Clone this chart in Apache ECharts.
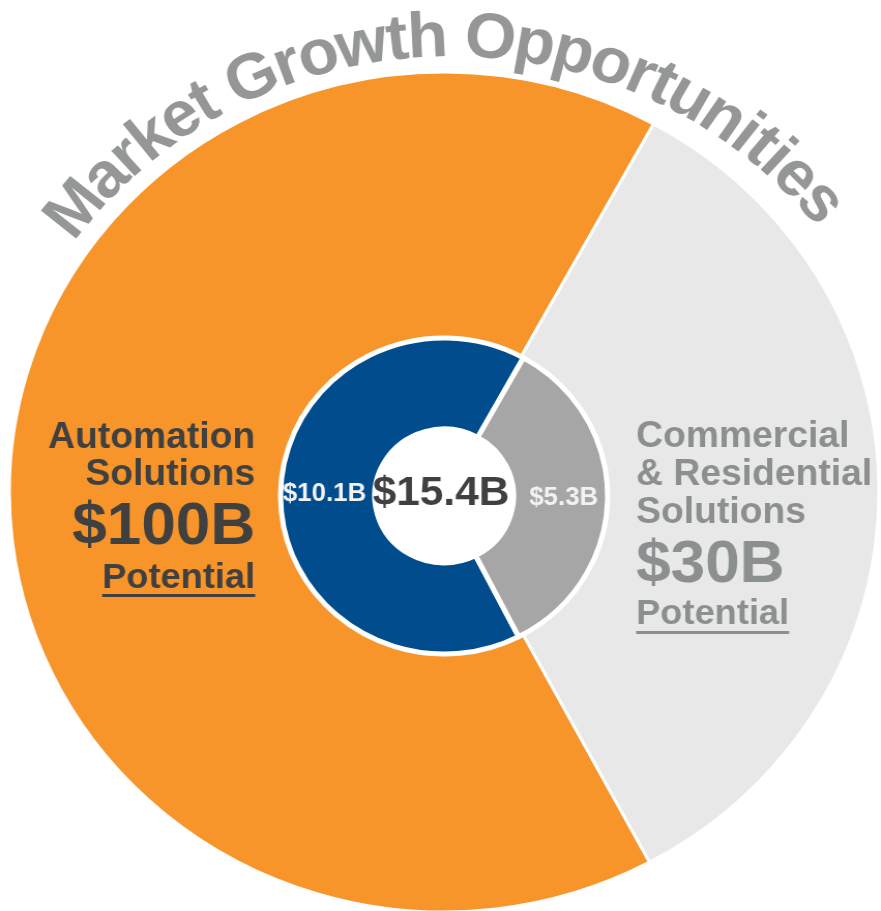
<!DOCTYPE html>
<html><head><meta charset="utf-8">
<script src="https://cdn.jsdelivr.net/npm/echarts@6/dist/echarts.min.js"></script>
<style>
html,body{margin:0;padding:0;background:#fff;overflow:hidden}
#wrap{width:881px;height:911px;overflow:hidden}
#chart{width:851px;height:911px;transform:scaleX(1.0352);transform-origin:0 0}
</style></head>
<body><div id="wrap"><div id="chart"></div></div>
<script>
// ---- data ----
const titleText = 'Market Growth Opportunities';
const segmentNames = ['Automation Solutions', 'Commercial & Residential Solutions'];
const potentialShareDeg = [237, 123];          // outer ring angular share
const potentialLabels = ['$100B', '$30B'];
const currentValues = [10.1, 5.3];             // inner ring ($B)
const subLabel = 'Potential';
const leftNameLines = ['Automation', 'Solutions'];
const rightNameLines = ['Commercial', '& Residential', 'Solutions'];

// ---- styles ----
const FONT = '"Liberation Sans", Arial, Helvetica, sans-serif';
const outerColors = ['#F7952A', '#E8E8E8'];
const innerColors = ['#004C8D', '#A6A6A6'];
const titleColor = '#959796';
const leftColor = '#404040';
const rightColor = '#8C8F8F';

const chart = echarts.init(document.getElementById('chart'), null, {renderer: 'canvas'});
const mctx = document.createElement('canvas').getContext('2d');
function measure(t, size) { mctx.font = 'bold ' + size + 'px ' + FONT; return mctx.measureText(t).width; }

// ---- curved title ----
const F = 64, Rb = 446, acx = 436, acy = 507, startDeg = -53.8, endDeg = 51.6;
const chars = [...titleText];
const adv = chars.map(c => measure(c, F));
const totalAdv = adv.reduce((a, b) => a + b, 0);
const k = ((endDeg - startDeg) * Math.PI / 180 * Rb) / totalAdv;
const graphics = [];
let s = 0;
chars.forEach((c, i) => {
  const w = adv[i] * k;
  const th = startDeg * Math.PI / 180 + (s + w / 2) / Rb;
  s += w;
  if (c === ' ') return;
  const r = Rb + 0.35 * F;
  graphics.push({type: 'text', z: 100, silent: true,
    x: acx + r * Math.sin(th), y: acy - r * Math.cos(th), rotation: -th,
    style: {text: c, fill: titleColor, fontSize: F, fontWeight: 'bold', fontFamily: FONT, align: 'center', verticalAlign: 'middle'}});
});

function txt(text, x, y, size, color, align) {
  graphics.push({type: 'text', z: 100, silent: true, x: x, y: y,
    style: {text: text, fill: color, fontSize: size, fontWeight: 'bold', fontFamily: FONT, align: align, verticalAlign: 'middle'}});
}
function underline(x, y, w, color) {
  graphics.push({type: 'rect', z: 100, silent: true, shape: {x: x, y: y, width: w, height: 3}, style: {fill: color}});
}

// left block (right aligned)
const LX = 246.5;
txt(leftNameLines[0], LX, 438, 36, leftColor, 'right');
txt(leftNameLines[1], LX, 475, 36, leftColor, 'right');
txt(potentialLabels[0], LX, 527, 60, leftColor, 'right');
txt(subLabel, LX, 578, 35, leftColor, 'right');
const wl = measure(subLabel, 35);
underline(LX - wl, 594, wl, leftColor);

// right block (left aligned)
const RX = 614.5;
txt(rightNameLines[0], RX, 437, 36, rightColor, 'left');
txt(rightNameLines[1], RX, 475, 36, rightColor, 'left');
txt(rightNameLines[2], RX, 513, 36, rightColor, 'left');
txt(potentialLabels[1], RX, 565, 60, rightColor, 'left');
txt(subLabel, RX, 614, 35, rightColor, 'left');
const wr = measure(subLabel, 35);
underline(RX, 631, wr, rightColor);

// center total
const total = currentValues.reduce((a, b) => a + b, 0);
txt('$' + total.toFixed(1) + 'B', 426, 494, 41, leftColor, 'center');

chart.setOption({
  animation: false,
  backgroundColor: '#ffffff',
  series: [
    {
      type: 'pie', name: 'Potential', silent: true, z: 1,
      center: [429, 492], radius: [0, 420],
      startAngle: -61.8, clockwise: true,
      label: {show: false}, labelLine: {show: false},
      itemStyle: {borderColor: '#ffffff', borderWidth: 3},
      data: segmentNames.map((n, i) => ({name: n, value: potentialShareDeg[i], itemStyle: {color: outerColors[i]}}))
    },
    {
      type: 'pie', name: 'Hole', silent: true, z: 2,
      center: [429, 496], radius: [0, 72],
      label: {show: false}, labelLine: {show: false},
      itemStyle: {color: '#ffffff'},
      data: [{name: '', value: 1}]
    },
    {
      type: 'pie', name: 'Current', silent: true, z: 3,
      center: [429, 496], radius: [67, 158],
      startAngle: -62.9, clockwise: true,
      itemStyle: {borderColor: '#ffffff', borderWidth: 5},
      label: {show: true, position: 'inside', fontSize: 25, fontWeight: 'bold', fontFamily: FONT, color: '#F2F2F2',
        formatter: p => '$' + p.value + 'B'},
      labelLine: {show: false},
      data: segmentNames.map((n, i) => ({name: n, value: currentValues[i], itemStyle: {color: innerColors[i]}}))
    }
  ],
  graphic: {elements: graphics}
});
</script>
</body></html>
